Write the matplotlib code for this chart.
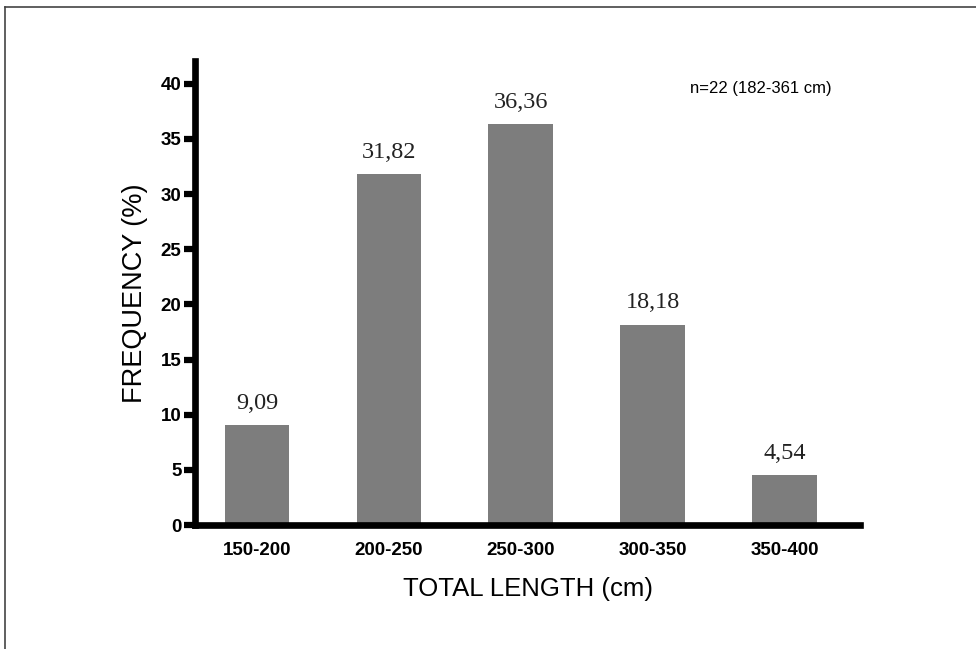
import matplotlib.pyplot as plt
from matplotlib.lines import Line2D

# Datos
classes = ['150-200', '200-250', '250-300', '300-350', '350-400']
freq = [9.09, 31.82, 36.36, 18.18, 4.54]
freq_labels = ['9,09', '31,82', '36,36', '18,18', '4,54']
y_ticks = [0, 5, 10, 15, 20, 25, 30, 35, 40]
note = 'n=22 (182-361 cm)'

fig = plt.figure(figsize=(9.76, 6.49), dpi=100)
ax = fig.add_axes([0.2003, 0.191, 0.881 - 0.2003, 0.906 - 0.191])

x = list(range(len(classes)))
bars = ax.bar(x, freq, width=0.49, color='#7d7d7d')

# Etiquetas de valor
for rect, lab in zip(bars, freq_labels):
    ax.annotate(lab, (rect.get_x() + rect.get_width() / 2, rect.get_height()),
                xytext=(0, 8), textcoords='offset points', ha='center', va='bottom',
                fontsize=17.5, family='Liberation Serif', color='#222222')

ax.set_xlim(-0.466, 4.57)
ax.set_ylim(0, 42.07)
ax.set_xticks(x)
ax.set_xticklabels(classes, fontsize=13.5, fontweight='bold', family='Liberation Sans')
ax.set_yticks(y_ticks)
ax.set_yticklabels([str(v) for v in y_ticks], fontsize=13.5, fontweight='bold',
                   family='Liberation Sans')
ax.tick_params(axis='x', length=0, pad=12)
ax.tick_params(axis='y', length=8, width=4.5, pad=2, direction='out')

for s in ['top', 'right']:
    ax.spines[s].set_visible(False)
for s in ['left', 'bottom']:
    ax.spines[s].set_linewidth(4.8)

ax.set_xlabel('TOTAL LENGTH (cm)', fontsize=18.5, family='Liberation Sans', labelpad=13)
ax.set_ylabel('FREQUENCY (%)', fontsize=19.5, family='Liberation Sans', labelpad=9)

ax.text(0.745, 0.94, note, transform=ax.transAxes, fontsize=12,
        family='Liberation Sans', va='center', ha='left')

# Marco parcial de la figura
fig.add_artist(Line2D([5 / 976, 1], [1 - 7 / 649, 1 - 7 / 649], color='#444444', lw=1.2))
fig.add_artist(Line2D([5 / 976, 5 / 976], [0, 1 - 7 / 649], color='#444444', lw=1.2))

fig.savefig('out.png', dpi=100)
